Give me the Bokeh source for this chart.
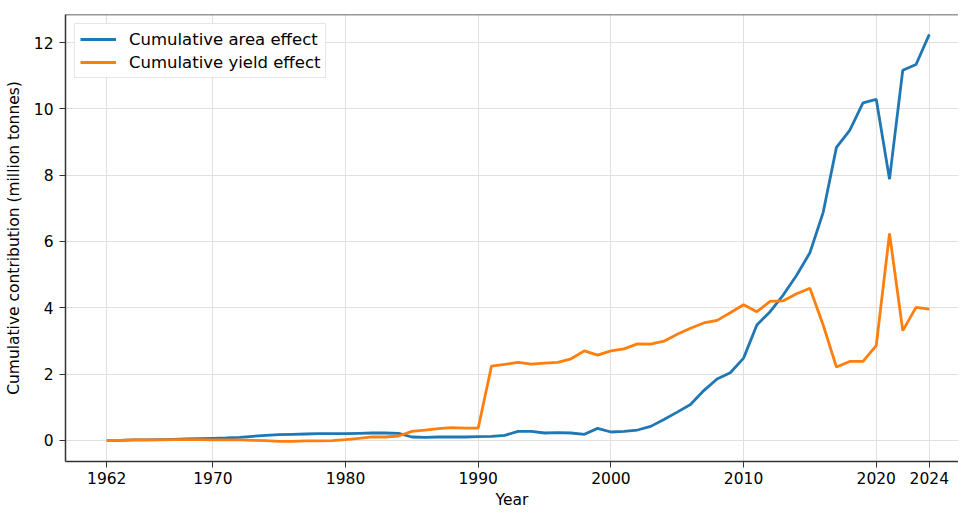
from bokeh.plotting import figure
from bokeh.models import FixedTicker, Range1d, Legend, LegendItem, Span
from bokeh.embed import file_html
from bokeh.resources import INLINE

years = list(range(1962, 2025))
area_effect = [0.00, 0.00, 0.01, 0.01, 0.02, 0.03, 0.04, 0.05, 0.06, 0.07,
               0.09, 0.12, 0.15, 0.17, 0.18, 0.19, 0.20, 0.20, 0.20, 0.21,
               0.22, 0.22, 0.21, 0.10, 0.09, 0.10, 0.10, 0.10, 0.11, 0.12,
               0.15, 0.27, 0.27, 0.22, 0.23, 0.22, 0.18, 0.36, 0.25, 0.27,
               0.31, 0.42, 0.63, 0.85, 1.08, 1.50, 1.85, 2.04, 2.48, 3.48,
               3.88, 4.39, 4.98, 5.66, 6.88, 8.84, 9.35, 10.18, 10.29, 7.88,
               11.17, 11.34, 12.25]
yield_effect = [0.00, 0.00, 0.01, 0.01, 0.01, 0.02, 0.02, 0.02, 0.01, 0.01,
                0.01, 0.00, -0.01, -0.03, -0.03, -0.02, -0.02, -0.01, 0.02, 0.06,
                0.10, 0.10, 0.13, 0.27, 0.31, 0.35, 0.38, 0.37, 0.37, 2.24,
                2.29, 2.35, 2.30, 2.33, 2.35, 2.46, 2.70, 2.57, 2.70, 2.76,
                2.91, 2.90, 2.99, 3.20, 3.38, 3.54, 3.62, 3.85, 4.09, 3.88,
                4.19, 4.21, 4.42, 4.59, 3.48, 2.21, 2.38, 2.38, 2.86, 6.24,
                3.31, 4.01, 3.96]
x_ticks = [1962, 1970, 1980, 1990, 2000, 2010, 2020, 2024]
y_ticks = [0, 2, 4, 6, 8, 10, 12]

FONT = "DejaVu Sans"
FS = "15.5px"
Y_END = 12.85

p = figure(width=958, height=511, output_backend="svg", toolbar_location=None,
           x_range=Range1d(1958.89, 2026.2), y_range=Range1d(-0.64, Y_END),
           min_border_left=65, min_border_top=14, min_border_right=0, min_border_bottom=10)
p.outline_line_color = None
p.background_fill_color = "white"
p.border_fill_color = "white"

r1 = p.line(years, area_effect, line_color="#1f77b4", line_width=2.8)
r2 = p.line(years, yield_effect, line_color="#ff7f0e", line_width=2.8)

p.add_layout(Span(location=Y_END, dimension="width", line_color="#333333", line_width=1.5))

for ax in (p.xaxis[0], p.yaxis[0]):
    ax.axis_line_color = "#333333"
    ax.axis_line_width = 1.5
    ax.major_tick_line_color = "#333333"
    ax.major_tick_out = 6
    ax.major_tick_in = 0
    ax.minor_tick_line_color = None
    ax.major_label_text_font = FONT
    ax.major_label_text_font_size = FS
    ax.major_label_text_color = "black"
    ax.axis_label_text_font = FONT
    ax.axis_label_text_font_size = FS
    ax.axis_label_text_font_style = "normal"
    ax.axis_label_text_color = "black"

p.xaxis.ticker = FixedTicker(ticks=x_ticks)
p.yaxis.ticker = FixedTicker(ticks=y_ticks)
p.xaxis.axis_label = "Year"
p.yaxis.axis_label = "Cumulative contribution (million tonnes)"
p.xaxis.major_label_standoff = 4
p.xaxis.axis_label_standoff = 4
p.yaxis.major_label_standoff = 6
p.yaxis.axis_label_standoff = 8

p.xgrid.ticker = FixedTicker(ticks=x_ticks)
p.ygrid.ticker = FixedTicker(ticks=y_ticks)
p.xgrid.grid_line_color = "#e0e0e0"
p.ygrid.grid_line_color = "#e0e0e0"
p.xgrid.grid_line_width = 1
p.ygrid.grid_line_width = 1

legend = Legend(items=[LegendItem(label="Cumulative area effect", renderers=[r1]),
                       LegendItem(label="Cumulative yield effect", renderers=[r2])],
                location="top_left")
legend.label_text_font = FONT
legend.label_text_font_size = "16.5px"
legend.label_text_color = "black"
legend.glyph_width = 36
legend.glyph_height = 20
legend.label_height = 20
legend.spacing = 3
legend.padding = 5
legend.margin = 9
legend.border_line_color = "#cccccc"
legend.border_line_width = 1
legend.background_fill_alpha = 0.9
legend.label_standoff = 13
p.add_layout(legend)

open("out.html", "w").write(file_html(p, INLINE))
